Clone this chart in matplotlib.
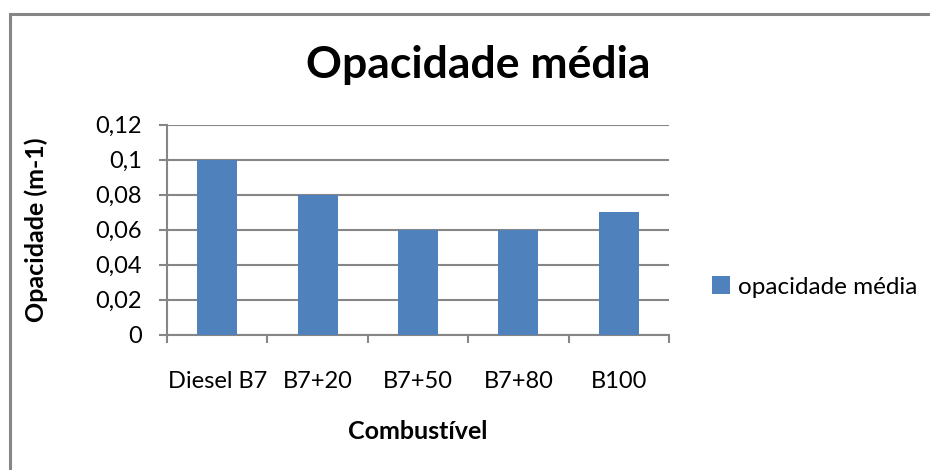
import matplotlib
matplotlib.use("Agg")
import matplotlib.pyplot as plt
from matplotlib.patches import Rectangle

categories = ["Diesel B7", "B7+20", "B7+50", "B7+80", "B100"]
values = [0.10, 0.08, 0.06, 0.06, 0.07]
series_name = "opacidade média"
yticks = [0, 0.02, 0.04, 0.06, 0.08, 0.10, 0.12]
ytick_labels = ["0", "0,02", "0,04", "0,06", "0,08", "0,1", "0,12"]

plt.rcParams['font.family'] = ['Lato', 'DejaVu Sans']

W, H = 930, 470
fig = plt.figure(figsize=(W / 100, H / 100), dpi=100)

# outer chart border
fig.patches.append(Rectangle((9.5 / W, -0.1), 1.2, 1 - 13.5 / H + 0.1,
                             transform=fig.transFigure, fill=False,
                             edgecolor="#868686", linewidth=2.2, zorder=0))

left, right, top, bottom = 167, 669, 124.5, 334.5
aw, ah = right - left, bottom - top
ax = fig.add_axes([left / W, 1 - bottom / H, aw / W, ah / H])

x = list(range(len(categories)))
ax.bar(x, values, width=0.4, color="#4F81BD", zorder=3, label=series_name)

ax.set_xlim(-0.5, len(categories) - 0.5)
ax.set_ylim(0, 0.12)
ax.set_yticks(yticks)
ax.set_yticklabels(ytick_labels)
ax.yaxis.grid(True, color="#868686", linewidth=1.5, zorder=0)
ax.set_axisbelow(True)

ax.set_xticks(x)
ax.set_xticklabels(categories)
ax.set_xticks([i - 0.5 for i in range(len(categories) + 1)], minor=True)
ax.tick_params(axis="x", which="major", length=0, pad=26, labelsize=17, colors="black")
ax.tick_params(axis="x", which="minor", length=6, width=1.5, color="#868686")
ax.tick_params(axis="y", length=6, width=1.5, color="#868686", labelsize=17, pad=12,
               labelcolor="black")

for s in ["top", "right"]:
    ax.spines[s].set_visible(False)
for s in ["left", "bottom"]:
    ax.spines[s].set_color("#868686")
    ax.spines[s].set_linewidth(1.5)

ax.set_xlabel("Combustível", fontsize=18, fontweight="bold", va="center")
ax.xaxis.set_label_coords(0.5, (bottom - 432) / ah)
ax.set_ylabel("Opacidade (m-1)", fontsize=18, fontweight="bold", va="center", ha="center")
ax.yaxis.set_label_coords((36 - left) / aw, 0.5)

fig.text(478 / W, 1 - 65 / H, "Opacidade média", fontsize=32, fontweight="bold",
         ha="center", va="center")

ax.legend(loc="center left", bbox_to_anchor=(700 / W, 1 - 287 / H),
          bbox_transform=fig.transFigure, frameon=False, fontsize=17.5,
          handlelength=0.75, handleheight=0.75, handletextpad=0.3, borderpad=0)

fig.savefig("out.png", dpi=100)
